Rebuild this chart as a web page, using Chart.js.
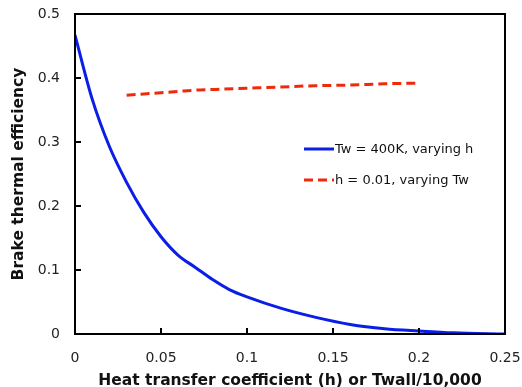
<!DOCTYPE html>
<html>
<head>
<meta charset="utf-8">
<script src="https://cdn.jsdelivr.net/npm/chart.js@4"></script>
<style>
  html, body { margin: 0; padding: 0; background: #fff; }
  #wrap { width: 522px; height: 387px; }
</style>
</head>
<body>
<div id="wrap"><canvas id="chart" width="522" height="387"></canvas></div>
<script>
// 데이터
const hValues = [0, 0.01, 0.02, 0.03, 0.04, 0.05, 0.06, 0.07, 0.08, 0.09, 0.1, 0.12, 0.14, 0.16, 0.18, 0.2, 0.22, 0.25];
const effVaryingH = [0.467, 0.367, 0.293, 0.237, 0.19, 0.152, 0.123, 0.104, 0.085, 0.069, 0.058, 0.04, 0.026, 0.015, 0.0083, 0.0047, 0.0018, 0];
const twValues = [0.03, 0.04, 0.05, 0.06, 0.07, 0.08, 0.1, 0.12, 0.14, 0.16, 0.18, 0.2];
const effVaryingTw = [0.373, 0.375, 0.377, 0.379, 0.381, 0.382, 0.384, 0.386, 0.388, 0.389, 0.391, 0.392];
const xTicks = [0, 0.05, 0.1, 0.15, 0.2, 0.25];
const yTicks = [0, 0.1, 0.2, 0.3, 0.4, 0.5];
const seriesNames = ['Tw = 400K, varying h', 'h = 0.01, varying Tw'];

const FONT = 'DejaVu Sans, Verdana, sans-serif';

// 박스 + 안쪽 눈금
const frame = {
    id: 'frame',
    afterDraw(chart) {
        const { ctx, chartArea: a, scales } = chart;
        ctx.save();
        ctx.strokeStyle = '#000';
        ctx.lineWidth = 2;
        ctx.strokeRect(a.left, a.top, a.right - a.left, a.bottom - a.top);
        ctx.beginPath();
        xTicks.forEach(v => {
            const px = scales.x.getPixelForValue(v);
            ctx.moveTo(px, a.bottom);
            ctx.lineTo(px, a.bottom - 6);
        });
        yTicks.forEach(v => {
            const py = scales.y.getPixelForValue(v);
            ctx.moveTo(a.left, py);
            ctx.lineTo(a.left + 6, py);
        });
        ctx.stroke();
        ctx.restore();
    }
};

// 범례 (차트 안쪽)
const innerLegend = {
    id: 'innerLegend',
    afterDraw(chart) {
        const { ctx } = chart;
        ctx.save();
        ctx.font = '13px ' + FONT;
        ctx.textBaseline = 'middle';
        ctx.fillStyle = '#111';
        chart.data.datasets.forEach((ds, i) => {
            const y = 149 + i * 31;
            ctx.strokeStyle = ds.borderColor;
            ctx.lineWidth = 3;
            ctx.setLineDash(ds.borderDash || []);
            ctx.beginPath();
            ctx.moveTo(304, y);
            ctx.lineTo(334, y);
            ctx.stroke();
            ctx.setLineDash([]);
            ctx.fillText(ds.label, 335, y + 1);
        });
        ctx.restore();
    }
};

new Chart(document.getElementById('chart'), {
    type: 'line',
    data: {
        datasets: [{
            label: seriesNames[0],
            data: hValues.map((x, i) => ({ x, y: effVaryingH[i] })),
            borderColor: '#0a1ee6',
            borderWidth: 3,
            pointRadius: 0,
            cubicInterpolationMode: 'monotone'
        }, {
            label: seriesNames[1],
            data: twValues.map((x, i) => ({ x, y: effVaryingTw[i] })),
            borderColor: '#ee2a0a',
            borderWidth: 3,
            borderDash: [9, 5],
            pointRadius: 0,
            cubicInterpolationMode: 'monotone'
        }]
    },
    options: {
        responsive: false,
        animation: false,
        layout: { padding: { top: 14, right: 17, left: 0, bottom: 0 } },
        plugins: { legend: { display: false }, tooltip: { enabled: false } },
        scales: {
            x: {
                type: 'linear',
                min: 0, max: 0.25,
                afterBuildTicks: s => { s.ticks = xTicks.map(v => ({ value: v })); },
                afterFit: s => { s.height = 53; s.paddingLeft = 0; s.paddingRight = 0; },
                grid: { display: false },
                border: { display: false },
                ticks: {
                    font: { family: FONT, size: 14 },
                    color: '#222',
                    padding: 8,
                    maxRotation: 0,
                    callback: v => String(v)
                },
                title: {
                    display: true,
                    text: 'Heat transfer coefficient (h) or Twall/10,000',
                    font: { family: FONT, size: 15.5, weight: 'bold' },
                    color: '#111',
                    padding: { top: 0, bottom: -3 }
                }
            },
            y: {
                min: 0, max: 0.5,
                afterBuildTicks: s => { s.ticks = yTicks.map(v => ({ value: v })); },
                afterFit: s => { s.width = 75; s.paddingTop = 0; s.paddingBottom = 0; },
                grid: { display: false },
                border: { display: false },
                ticks: {
                    font: { family: FONT, size: 14 },
                    color: '#222',
                    padding: 7,
                    callback: v => String(v)
                },
                title: {
                    display: true,
                    text: 'Brake thermal efficiency',
                    font: { family: FONT, size: 15.5, weight: 'bold' },
                    color: '#111',
                    padding: { top: 10, bottom: 0 }
                }
            }
        }
    },
    plugins: [frame, innerLegend]
});
</script>
</body>
</html>
